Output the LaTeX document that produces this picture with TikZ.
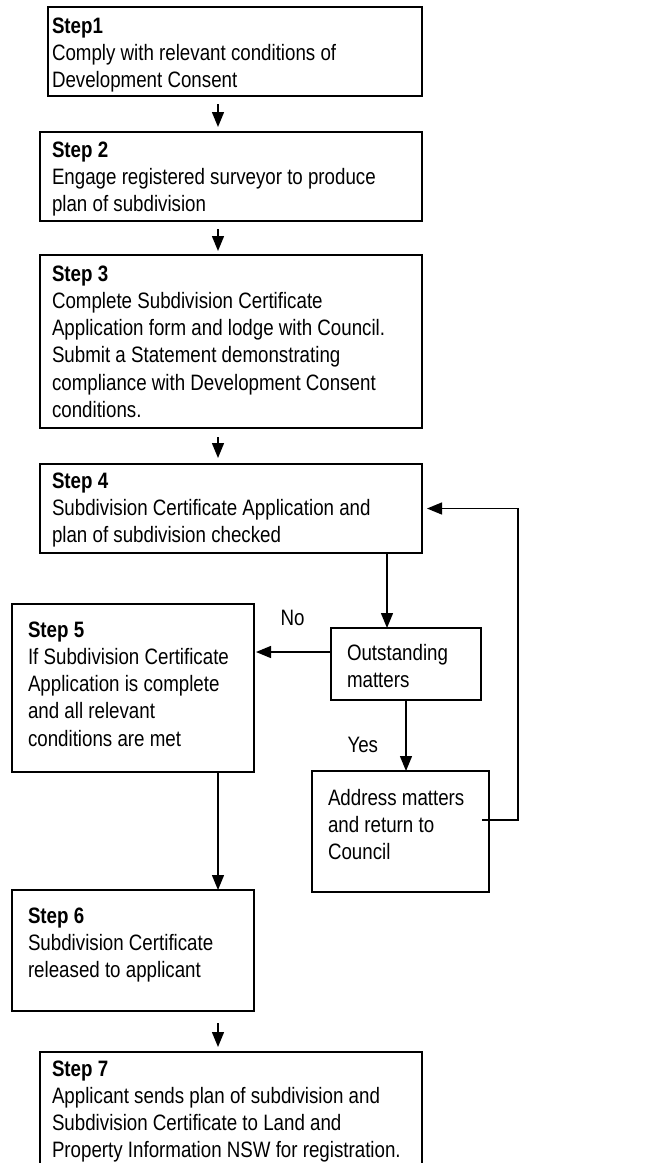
\documentclass[tikz,border=0pt]{standalone}
\usepackage{fontspec}
\setmainfont[FakeStretch=0.84]{Liberation Sans}
\usetikzlibrary{arrows.meta,positioning}

\begin{document}
\begin{tikzpicture}[x=1pt,y=-1pt,
	font=\fontsize{22.3}{27.3}\selectfont,
	stepbox/.style={draw, line width=2pt, anchor=north west, align=flush left, outer sep=0pt, inner ysep=0pt, inner xsep=12pt,
		execute at begin node={\spaceskip=5.2pt\xspaceskip=5.2pt}},
	smallbox/.style={stepbox, line width=1.6pt, inner xsep=16pt},
	arr/.style={line width=1.4pt, -{Triangle[length=15pt,width=12pt]}},
	lbl/.style={anchor=base west}]
	\useasboundingbox (0,0) rectangle (669,1163);
	\coordinate (col) at (218,0);
	\coordinate (loop) at (518,820);
	% steps down the main column
	\node[stepbox, inner xsep=4pt, text width=366pt, text height=26pt, text depth=63pt] (s1) at (48,7)
		{\textbf{Step1}\\Comply with relevant conditions of\\Development Consent};
	\node[stepbox, text width=358pt, text height=25pt, text depth=64pt] (s2) at (40,132)
		{\textbf{Step 2}\\Engage registered surveyor to produce\\plan of subdivision};
	\node[stepbox, text width=358pt, text height=26pt, text depth=147pt] (s3) at (40,255)
		{\textbf{Step 3}\\Complete Subdivision Certificate\\Application form and lodge with Council.\\Submit a Statement demonstrating\\compliance with Development Consent\\conditions.};
	\node[stepbox, text width=358pt, text height=24pt, text depth=65pt] (s4) at (40,464)
		{\textbf{Step 4}\\Subdivision Certificate Application and\\plan of subdivision checked};
	\node[smallbox, text width=210pt, text height=33pt, text depth=135pt] (s5) at (12,604)
		{\textbf{Step 5}\\If Subdivision Certificate\\Application is complete\\and all relevant\\conditions are met};
	\node[smallbox, text width=210pt, text height=33pt, text depth=88pt] (s6) at (12,890)
		{\textbf{Step 6}\\Subdivision Certificate\\released to applicant};
	\node[stepbox, text width=358pt, text height=24pt, text depth=130pt] (s7) at (40,1052)
		{\textbf{Step 7}\\Applicant sends plan of subdivision and\\Subdivision Certificate to Land and\\Property Information NSW for registration.};
	% check branch
	\node[smallbox, text width=118pt, text height=32pt, text depth=40pt] (om) at (331,628)
		{Outstanding\\matters};
	\node[smallbox, text width=145pt, text height=34pt, text depth=87pt] (am) at (312,771)
		{Address matters\\and return to\\Council};
	\node[lbl] (no) at (277,625) {No};
	\node[lbl] (yes) at (344,752) {Yes};
	% connectors
	\draw[arr, shorten <=8pt, shorten >=5pt] (s1.south -| col) -- (s2.north -| col);
	\draw[arr, shorten <=8pt, shorten >=4pt] (s2.south -| col) -- (s3.north -| col);
	\draw[arr, shorten <=9pt, shorten >=6pt] (s3.south -| col) -- (s4.north -| col);
	\draw[arr] ([xshift=-19pt]om.north |- s4.south) -- ([xshift=-19pt]om.north);
	\draw[arr, shorten >=2pt] ([yshift=12pt]om.west) -- ([yshift=12pt]om.west -| s5.east);
	\draw[arr] (om.south) -- (om.south |- am.north);
	\draw[arr, shorten >=5pt] ([xshift=-7pt]am.east |- loop) -- (loop) |- (s4.east);
	\draw[arr] (col |- s5.south) -- (col |- s6.north);
	\draw[arr, shorten <=12pt, shorten >=5pt] (s6.south -| col) -- (s7.north -| col);
\end{tikzpicture}
\end{document}
